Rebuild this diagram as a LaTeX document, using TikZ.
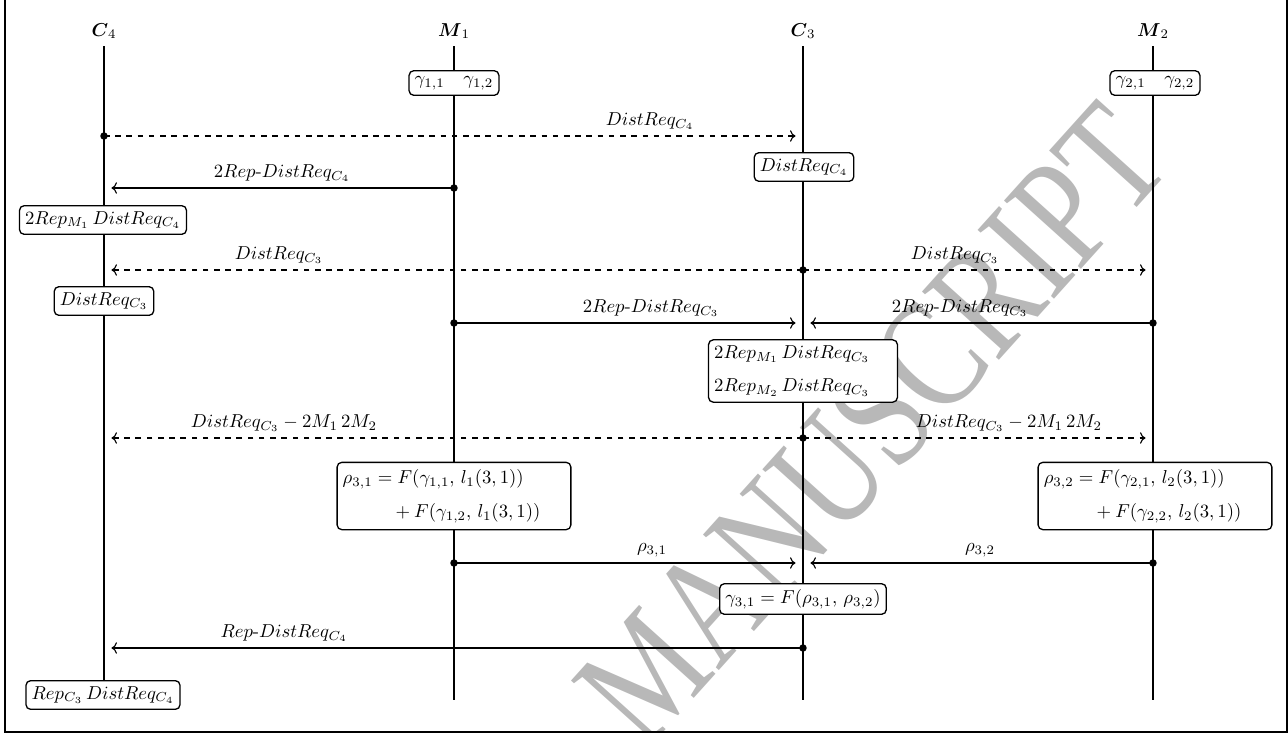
\documentclass[tikz,border=0pt]{standalone}
\usepackage{amsmath}
\usepackage{fontspec}
\newfontfamily\wmfont{Liberation Serif}
\usetikzlibrary{arrows.meta}
\begin{document}
\begin{tikzpicture}[x=0.5348pt,y=-0.5348pt,
  life/.style={line width=0.6pt},
  box/.style={draw, rounded corners=2.5pt, fill=white, line width=0.7pt, inner sep=3pt},
  mbox/.style={box, align=left},
  msg/.style={->, line width=0.6pt, shorten >=4pt},
  dmsg/.style={msg, dashed},
  dotn/.style={circle, fill, inner sep=0pt, minimum size=4pt},
  lbl/.style={anchor=south, inner sep=2pt}]
\useasboundingbox (0,0) rectangle (1288,733);
% watermark
\node[rotate=48, xscale=0.78, text=black!28, font=\wmfont\fontsize{84}{84}\selectfont] (wm) at (872,425) {MANUSCRIPT};
% frame
\draw[line width=1pt] (5,-20) rectangle (1287,732);
% heads
\node (hC4) at (104,31) {$\boldsymbol{C}_4$};
\node (hM1) at (454,31) {$\boldsymbol{M}_1$};
\node (hC3) at (803,31) {$\boldsymbol{C}_3$};
\node (hM2) at (1153,31) {$\boldsymbol{M}_2$};
% lifelines
\coordinate (tC4) at (104,46);  \coordinate (eC4) at (104,700);
\coordinate (tM1) at (454,46);  \coordinate (eM1) at (454,700);
\coordinate (tC3) at (803,46);  \coordinate (eC3) at (803,700);
\coordinate (tM2) at (1153,46); \coordinate (eM2) at (1153,700);
\draw[life] (tC4) -- (eC4);
\draw[life] (tM1) -- (eM1);
\draw[life] (tC3) -- (eC3);
\draw[life] (tM2) -- (eM2);
% boxes
\node[box] (bG1) at (454,83) {$\gamma_{1,1}\quad\gamma_{1,2}$};
\node[box] (bG2) at (1155,83) {$\gamma_{2,1}\quad\gamma_{2,2}$};
\node[box] (bC3a) at (804,167) {$DistReq_{C_4}$};
\node[box] (bC4a) at (103,220) {$2Rep_{M_1}\,DistReq_{C_4}$};
\node[box] (bC4b) at (104,301) {$DistReq_{C_3}$};
\node[mbox, text width=95pt] (bC3b) at (803,371) {$2Rep_{M_1}\,DistReq_{C_3}$\\[6pt]$2Rep_{M_2}\,DistReq_{C_3}$};
\node[mbox, text width=119pt] (bM1) at (454,496) {$\begin{aligned}\rho_{3,1} &= F(\gamma_{1,1},\, l_1(3,1))\\[3pt] &\quad + F(\gamma_{1,2},\, l_1(3,1))\end{aligned}$};
\node[mbox, text width=119pt] (bM2) at (1155,496) {$\begin{aligned}\rho_{3,2} &= F(\gamma_{2,1},\, l_2(3,1))\\[3pt] &\quad + F(\gamma_{2,2},\, l_2(3,1))\end{aligned}$};
\node[box] (bC3c) at (803,599) {$\gamma_{3,1} = F(\rho_{3,1},\, \rho_{3,2})$};
\node[box] (bC4c) at (103,695) {$Rep_{C_3}\,DistReq_{C_4}$};
% message 1
\coordinate (a1) at (104,136); \coordinate (b1) at (803,136);
\draw[dmsg] (a1) -- (b1);
\node[dotn] (d1) at (a1) {};
\node[lbl] (l1) at (650,134) {$DistReq_{C_4}$};
% message 2
\coordinate (a2) at (454,188); \coordinate (b2) at (104,188);
\draw[msg] (a2) -- (b2);
\node[dotn] (d2) at (a2) {};
\node[lbl] (l2) at (282,186) {$2Rep\text{-}DistReq_{C_4}$};
% message 3
\coordinate (a3) at (803,270); \coordinate (b3a) at (104,270); \coordinate (b3b) at (1153,270);
\draw[dmsg] (a3) -- (b3a);
\draw[dmsg] (a3) -- (b3b);
\node[dotn] (d3) at (a3) {};
\node[lbl] (l3a) at (279,268) {$DistReq_{C_3}$};
\node[lbl] (l3b) at (955,268) {$DistReq_{C_3}$};
% message 4
\coordinate (a4a) at (454,323); \coordinate (a4b) at (1153,323); \coordinate (b4) at (803,323);
\draw[msg] (a4a) -- (b4);
\draw[msg] (a4b) -- (b4);
\node[dotn] (d4a) at (a4a) {};
\node[dotn] (d4b) at (a4b) {};
\node[lbl] (l4a) at (651,321) {$2Rep\text{-}DistReq_{C_3}$};
\node[lbl] (l4b) at (960,321) {$2Rep\text{-}DistReq_{C_3}$};
% message 5
\coordinate (a5) at (803,438); \coordinate (b5a) at (104,438); \coordinate (b5b) at (1153,438);
\draw[dmsg] (a5) -- (b5a);
\draw[dmsg] (a5) -- (b5b);
\node[dotn] (d5) at (a5) {};
\node[lbl] (l5a) at (284,436) {$DistReq_{C_3} - 2M_1\,2M_2$};
\node[lbl] (l5b) at (1009,436) {$DistReq_{C_3} - 2M_1\,2M_2$};
% message 6
\coordinate (a6a) at (454,563); \coordinate (a6b) at (1153,563); \coordinate (b6) at (803,563);
\draw[msg] (a6a) -- (b6);
\draw[msg] (a6b) -- (b6);
\node[dotn] (d6a) at (a6a) {};
\node[dotn] (d6b) at (a6b) {};
\node[lbl] (l6a) at (652,561) {$\rho_{3,1}$};
\node[lbl] (l6b) at (980,561) {$\rho_{3,2}$};
% message 7
\coordinate (a7) at (803,648); \coordinate (b7) at (104,648);
\draw[msg] (a7) -- (b7);
\node[dotn] (d7) at (a7) {};
\node[lbl] (l7) at (284,646) {$Rep\text{-}DistReq_{C_4}$};
\end{tikzpicture}
\end{document}
